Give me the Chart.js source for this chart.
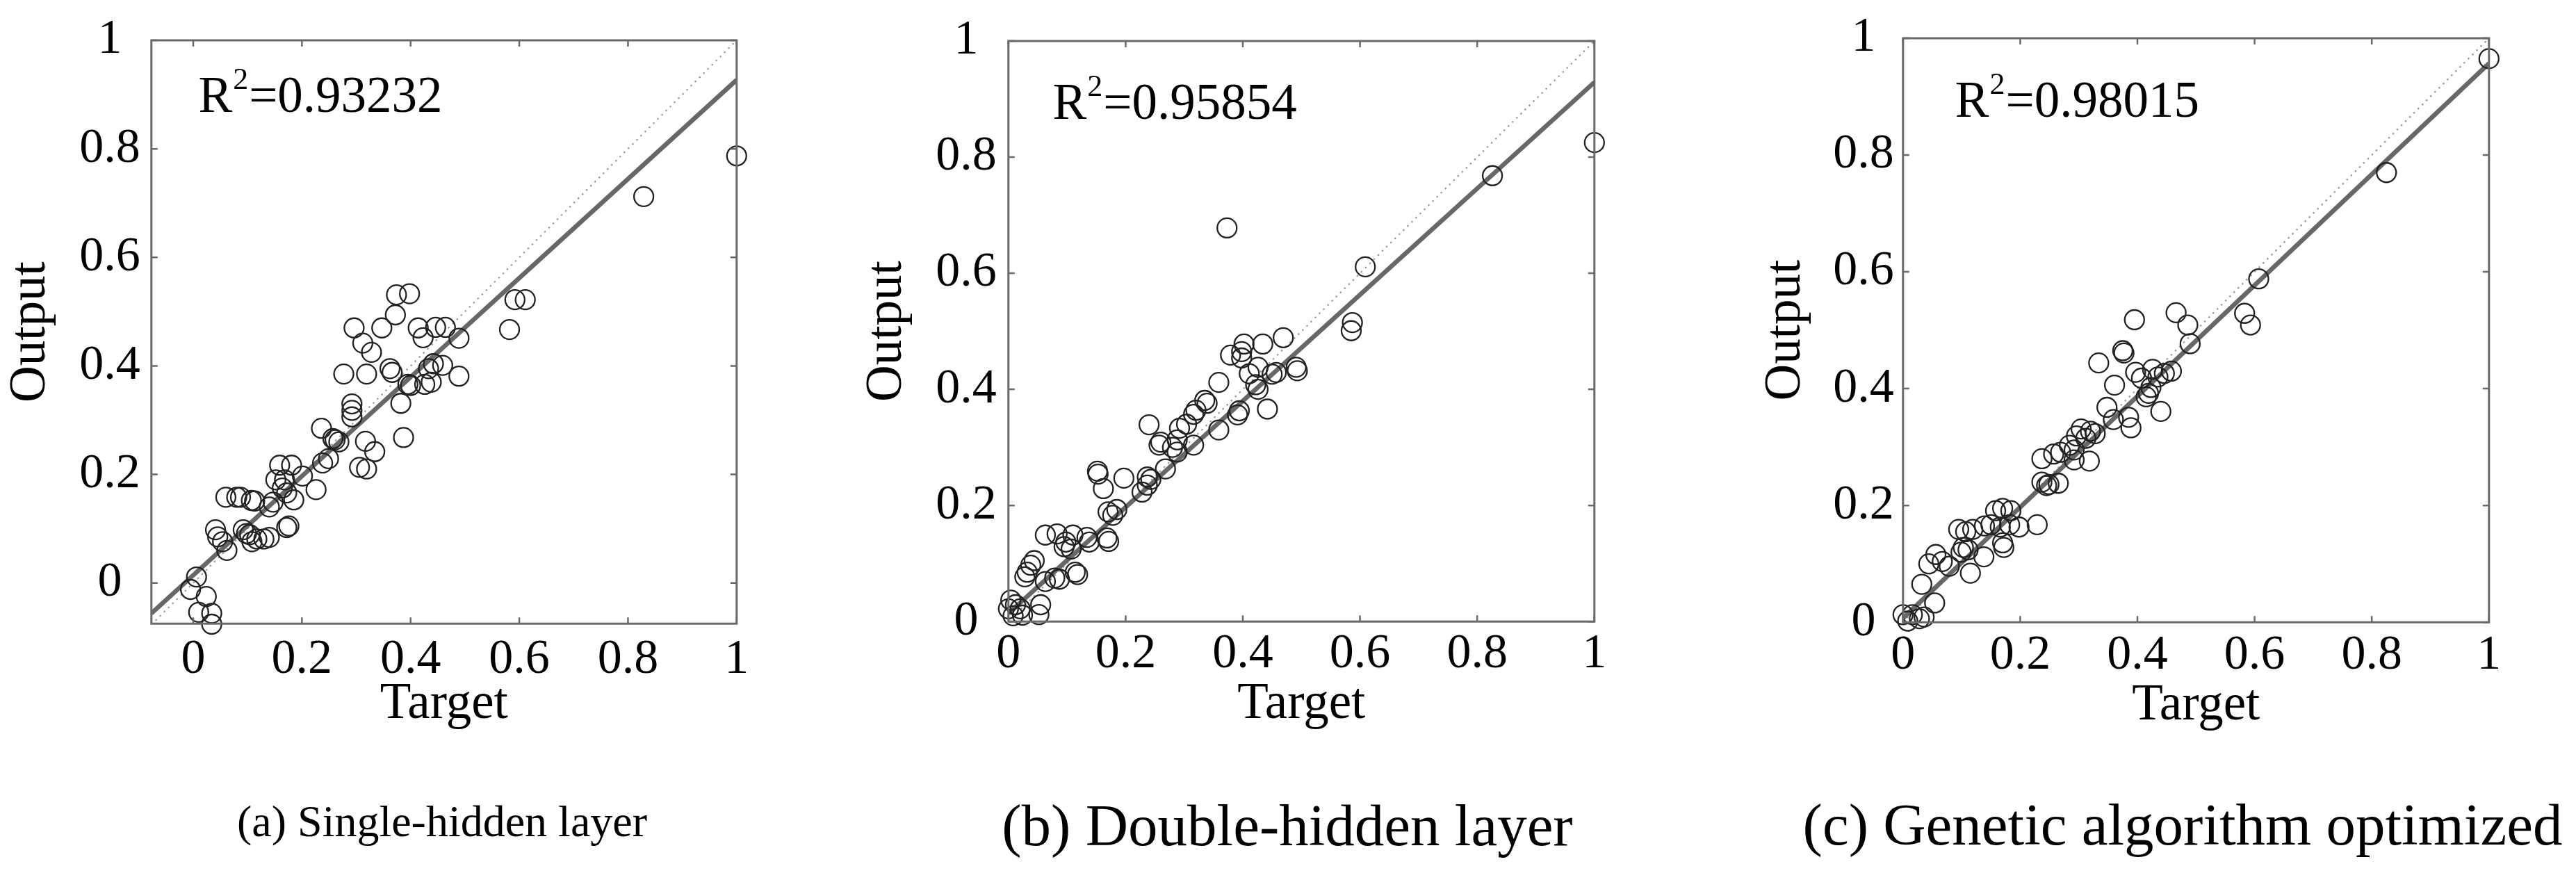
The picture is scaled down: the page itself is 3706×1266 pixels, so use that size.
<!DOCTYPE html>
<html>
<head>
<meta charset="utf-8">
<script src="https://cdn.jsdelivr.net/npm/chart.js@4.4.1/dist/chart.umd.min.js"></script>
<style>
html,body{margin:0;padding:0;background:#fff;width:3706px;height:1266px;overflow:hidden;position:relative;}
canvas{position:absolute;}
.cap{position:absolute;font-family:"Liberation Serif","Times New Roman",serif;color:#000;white-space:nowrap;line-height:1;transform:translate(-50%,-50%);}
</style>
</head>
<body>
<canvas id="ca"></canvas>
<canvas id="cb"></canvas>
<canvas id="cc"></canvas>
<div class="cap" id="capa"></div>
<div class="cap" id="capb"></div>
<div class="cap" id="capc"></div>
<script>
// ---------------- data ----------------
const captions = ['(a) Single-hidden layer', '(b) Double-hidden layer', '(c) Genetic algorithm optimized'];
const r2Values = ['0.93232', '0.95854', '0.98015'];
const xTitle = 'Target';
const yTitle = 'Output';
const tickValues = [0, 0.2, 0.4, 0.6, 0.8, 1];
const tickLabels = ['0', '0.2', '0.4', '0.6', '0.8', '1'];

// (a) single-hidden layer
const targetA = [1.0,0.829,0.582,0.592,0.611,0.489,0.489,0.464,0.446,0.414,0.423,0.459,0.442,0.433,0.426,0.438,0.398,0.374,0.372,0.347,0.296,0.312,0.328,0.277,0.319,0.362,0.366,0.395,0.400,0.382,0.292,0.292,0.292,0.387,0.317,0.334,0.306,0.319,0.236,0.257,0.268,0.261,0.238,0.249,0.226,0.159,0.181,0.152,0.168,0.164,0.172,0.185,0.147,0.172,0.176,0.201,0.113,0.060,0.080,0.087,0.107,0.041,0.045,0.054,0.062,0.092,0.104,0.117,0.130,0.108,0.098,0.140,0.006,-0.005,0.024,0.010,0.034,0.034,0.140];
const outputA = [0.787,0.712,0.467,0.522,0.522,0.451,0.381,0.471,0.471,0.470,0.452,0.401,0.404,0.395,0.366,0.370,0.533,0.531,0.494,0.470,0.470,0.442,0.425,0.385,0.385,0.395,0.388,0.366,0.364,0.331,0.330,0.318,0.306,0.268,0.261,0.242,0.213,0.210,0.285,0.266,0.260,0.264,0.221,0.229,0.172,0.217,0.217,0.190,0.190,0.175,0.166,0.153,0.149,0.102,0.105,0.197,0.151,0.158,0.158,0.158,0.152,0.098,0.085,0.076,0.060,0.098,0.089,0.081,0.081,0.076,0.091,0.084,0.011,-0.012,-0.025,-0.054,-0.056,-0.076,0.140];
const fitXA = [-0.077, 1];
const fitYA = [-0.056, 0.927];
const xMinA = -0.077, yMinA = -0.075;

// (b) double-hidden layer
const targetB = [1.0,0.826,0.373,0.609,0.587,0.585,0.469,0.434,0.402,0.379,0.398,0.398,0.491,0.493,0.450,0.426,0.422,0.426,0.442,0.359,0.335,0.339,0.394,0.391,0.359,0.316,0.320,0.304,0.292,0.288,0.316,0.240,0.260,0.257,0.268,0.280,0.288,0.197,0.237,0.237,0.228,0.152,0.153,0.162,0.185,0.170,0.178,0.168,0.171,0.063,0.083,0.110,0.098,0.095,0.107,0.134,0.138,0.038,0.044,0.032,0.028,0.079,0.087,0.114,0.118,0.063,0.004,0.012,0.000,0.020,0.055,0.052,0.008,0.024,0.457,0.411,0.243];
const outputB = [0.825,0.768,0.678,0.611,0.515,0.501,0.489,0.478,0.478,0.459,0.465,0.454,0.438,0.432,0.426,0.438,0.408,0.400,0.366,0.412,0.381,0.376,0.363,0.356,0.330,0.357,0.364,0.340,0.333,0.313,0.304,0.339,0.309,0.304,0.263,0.300,0.292,0.247,0.249,0.235,0.223,0.259,0.254,0.229,0.193,0.189,0.183,0.144,0.138,0.149,0.151,0.149,0.137,0.129,0.125,0.145,0.137,0.097,0.105,0.085,0.077,0.075,0.073,0.085,0.081,0.069,0.037,0.029,0.022,0.022,0.029,0.012,0.010,0.011,0.429,0.427,0.245];
const fitXB = [0, 1];
const fitYB = [0.014, 0.929];
const xMinB = 0, yMinB = 0;

// (c) genetic algorithm optimized
const targetC = [1.0,0.825,0.607,0.583,0.593,0.466,0.486,0.490,0.395,0.375,0.377,0.334,0.361,0.397,0.426,0.446,0.458,0.407,0.423,0.419,0.415,0.440,0.348,0.385,0.389,0.359,0.304,0.320,0.328,0.296,0.312,0.284,0.292,0.237,0.257,0.269,0.292,0.318,0.237,0.265,0.249,0.229,0.158,0.170,0.184,0.150,0.166,0.182,0.198,0.170,0.172,0.095,0.107,0.119,0.138,0.115,0.103,0.099,0.111,0.044,0.056,0.067,0.079,0.032,0.054,0.000,0.016,0.028,0.008,0.036,0.245,0.139,0.435];
const outputC = [0.965,0.770,0.588,0.529,0.509,0.530,0.509,0.477,0.518,0.465,0.461,0.444,0.406,0.428,0.433,0.426,0.430,0.418,0.402,0.392,0.386,0.361,0.368,0.351,0.333,0.347,0.331,0.327,0.323,0.319,0.315,0.303,0.295,0.280,0.288,0.291,0.278,0.276,0.240,0.238,0.236,0.167,0.191,0.195,0.191,0.167,0.163,0.167,0.163,0.136,0.128,0.159,0.155,0.159,0.112,0.084,0.128,0.120,0.124,0.100,0.116,0.104,0.096,0.065,0.033,0.013,0.013,0.006,0.002,0.009,0.234,0.165,0.420];
const fitXC = [0, 1];
const fitYC = [0.007, 0.957];
const xMinC = 0, yMinC = 0;

// position of the R^2 note, in data units
const r2PosX = [0.0096, 0.0756, 0.089];
const r2PosY = [0.868, 0.866, 0.866];

// ---------------- layout (page pixels) ----------------
const FONT = '"Liberation Serif", "Times New Roman", Times, serif';
Chart.defaults.font.family = FONT;
const TICK_SIZE = 70, TITLE_SIZE = 73, R2_SIZE = 73;
const layouts = [
  {id:'ca', L:218,  T:52, R:1060, B:895, yTitleMid:45,   yTickPad:16, xTickPad:10, xTitleMid:1012, cap:{x:636,  y:1182, size:64}},
  {id:'cb', L:1451, T:54, R:2294, B:892, yTitleMid:1277, yTickPad:17, xTickPad:5,  xTitleMid:1012, cap:{x:1852, y:1187, size:85}},
  {id:'cc', L:2738, T:51, R:3581, B:893, yTitleMid:2570, yTickPad:13, xTickPad:6,  xTitleMid:1014, cap:{x:3140, y:1186, size:85}}
];

const panels = [
  {tx:targetA, oy:outputA, fx:fitXA, fy:fitYA, xmin:xMinA, ymin:yMinA},
  {tx:targetB, oy:outputB, fx:fitXB, fy:fitYB, xmin:xMinB, ymin:yMinB},
  {tx:targetC, oy:outputC, fx:fitXC, fy:fitYC, xmin:xMinC, ymin:yMinC}
];

const boxPlugin = {
  id: 'matlabBox',
  afterDatasetsDraw(chart) {
    const {ctx, chartArea: a, scales} = chart;
    const x = scales.x, y = scales.y;
    ctx.save();
    ctx.strokeStyle = '#6a6a6a';
    ctx.lineWidth = 3;
    ctx.strokeRect(a.left, a.top, a.right - a.left, a.bottom - a.top);
    ctx.lineWidth = 2.5;
    const tl = 9;
    ctx.beginPath();
    x.ticks.forEach(t => {
      const p = x.getPixelForValue(t.value);
      ctx.moveTo(p, a.bottom); ctx.lineTo(p, a.bottom - tl);
      ctx.moveTo(p, a.top); ctx.lineTo(p, a.top + tl);
    });
    y.ticks.forEach(t => {
      const p = y.getPixelForValue(t.value);
      ctx.moveTo(a.left, p); ctx.lineTo(a.left + tl, p);
      ctx.moveTo(a.right, p); ctx.lineTo(a.right - tl, p);
    });
    ctx.stroke();
    ctx.restore();
  }
};

const r2Plugin = {
  id: 'r2note',
  afterDraw(chart, args, opts) {
    if (!opts || opts.value === undefined) return;
    const {ctx, scales} = chart;
    const px = scales.x.getPixelForValue(opts.x);
    const py = scales.y.getPixelForValue(opts.y);
    ctx.save();
    ctx.fillStyle = '#000';
    ctx.textBaseline = 'alphabetic';
    ctx.textAlign = 'left';
    ctx.font = R2_SIZE + 'px ' + FONT;
    ctx.fillText('R', px, py);
    let cx = px + ctx.measureText('R').width + 1;
    ctx.font = Math.round(R2_SIZE * 0.6) + 'px ' + FONT;
    ctx.fillText('2', cx, py - 33);
    cx += ctx.measureText('2').width + 1;
    ctx.font = R2_SIZE + 'px ' + FONT;
    ctx.fillText('=' + opts.value, cx, py);
    ctx.restore();
  }
};

function build(i) {
  const lay = layouts[i], p = panels[i];
  const titleLH = TITLE_SIZE * 1.2;
  const cx = lay.yTitleMid - titleLH / 2;
  const Wy = lay.L - cx;
  const Hx = lay.xTitleMid + titleLH / 2 - lay.B;
  const canvas = document.getElementById(lay.id);
  const cw = Math.round(lay.R - cx + 45);
  const ch = Math.round(lay.B + Hx + 2);
  canvas.width = cw; canvas.height = ch;
  canvas.style.left = cx + 'px'; canvas.style.top = '0px';
  canvas.style.width = cw + 'px'; canvas.style.height = ch + 'px';

  const pts = p.tx.map((t, k) => ({x: t, y: p.oy[k]}));
  const fit = p.fx.map((v, k) => ({x: v, y: p.fy[k]}));
  const lo = Math.min(p.xmin, p.ymin);
  const ideal = [{x: lo, y: lo}, {x: 1, y: 1}];

  new Chart(canvas, {
    type: 'scatter',
    data: {
      datasets: [
        {label: 'Data', data: pts, showLine: false, pointStyle: 'circle', pointRadius: 14, pointHoverRadius: 14,
         borderColor: '#222222', backgroundColor: 'rgba(0,0,0,0)', pointBorderWidth: 2.3, borderWidth: 2.3, clip: false, order: 0},
        {label: 'Fit', type: 'line', data: fit, borderColor: '#676767', borderWidth: 6.5, pointRadius: 0, fill: false, order: 1},
        {label: 'Y = T', type: 'line', data: ideal, borderColor: '#9a9a9a', borderWidth: 2.2, borderDash: [2.5, 6], pointRadius: 0, fill: false, order: 2}
      ]
    },
    options: {
      responsive: false,
      animation: false,
      devicePixelRatio: 1,
      layout: {padding: {left: 0, top: lay.T, right: cw - (lay.R - cx), bottom: 0}},
      plugins: {legend: {display: false}, tooltip: {enabled: false},
                r2note: {value: r2Values[i], x: r2PosX[i], y: r2PosY[i]}},
      scales: {
        x: {
          type: 'linear', min: p.xmin, max: 1,
          grid: {display: false, drawTicks: false}, border: {display: false},
          afterBuildTicks: s => { s.ticks = tickValues.map(v => ({value: v})); },
          afterFit: s => { s.height = Hx; },
          ticks: {padding: lay.xTickPad, color: '#000', font: {family: FONT, size: TICK_SIZE},
                  maxRotation: 0, autoSkip: false, callback: (v, k) => tickLabels[k]},
          title: {display: true, text: xTitle, color: '#000', padding: 0, font: {family: FONT, size: TITLE_SIZE}}
        },
        y: {
          type: 'linear', min: p.ymin, max: 1,
          grid: {display: false, drawTicks: false}, border: {display: false},
          afterBuildTicks: s => { s.ticks = tickValues.map(v => ({value: v})); },
          afterFit: s => { s.width = Wy; },
          ticks: {padding: lay.yTickPad, crossAlign: 'center', color: '#000', font: {family: FONT, size: TICK_SIZE},
                  autoSkip: false, callback: (v, k) => tickLabels[k]},
          title: {display: true, text: yTitle, color: '#000', padding: 0, font: {family: FONT, size: TITLE_SIZE}}
        }
      }
    },
    plugins: [boxPlugin, r2Plugin]
  });

  const cap = document.getElementById(['capa', 'capb', 'capc'][i]);
  cap.textContent = captions[i];
  cap.style.left = lay.cap.x + 'px';
  cap.style.top = lay.cap.y + 'px';
  cap.style.fontSize = lay.cap.size + 'px';
}

function drawAll() { for (let i = 0; i < 3; i++) build(i); }
if (document.fonts && document.fonts.load) {
  document.fonts.load('70px "Liberation Serif"').then(drawAll, drawAll);
} else { drawAll(); }
</script>
</body>
</html>
